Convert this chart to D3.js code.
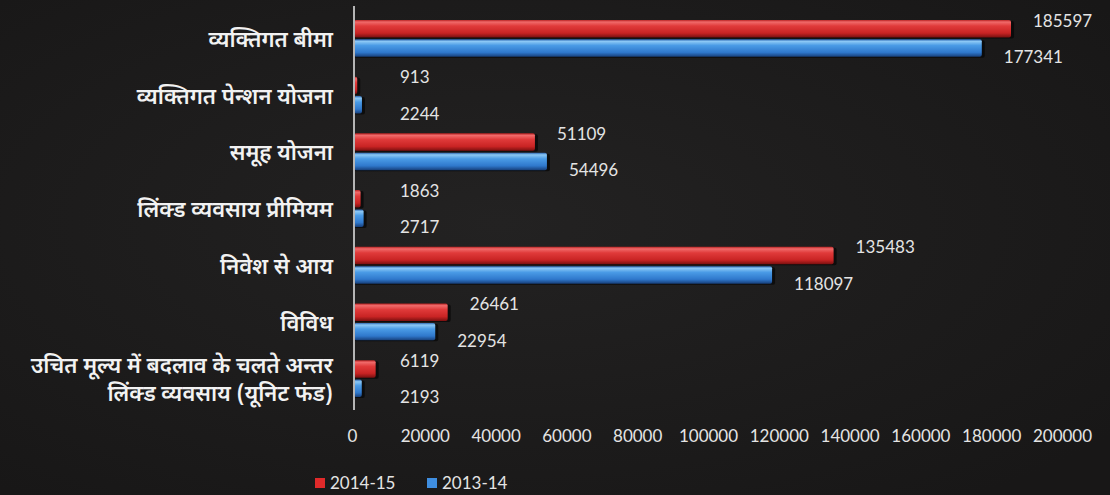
<!DOCTYPE html>
<html>
<head>
<meta charset="utf-8">
<script src="https://cdn.jsdelivr.net/npm/d3@7"></script>
<style>
  html, body { margin: 0; padding: 0; background: #1c1b1b; }
  svg { display: block; }
</style>
</head>
<body>
<svg width="1110" height="495"></svg>
<script>
const categories = [
    ["व्यक्तिगत बीमा"],
    ["व्यक्तिगत पेन्शन योजना"],
    ["समूह योजना"],
    ["लिंक्ड व्यवसाय प्रीमियम"],
    ["निवेश से आय"],
    ["विविध"],
    ["उचित मूल्य में बदलाव के चलते अन्तर", "लिंक्ड व्यवसाय (यूनिट फंड)"]
];
const seriesNames = ["2014-15", "2013-14"];
const values2014 = [185597, 913, 51109, 1863, 135483, 26461, 6119];
const values2013 = [177341, 2244, 54496, 2717, 118097, 22954, 2193];
const xTicks = [0, 20000, 40000, 60000, 80000, 100000, 120000, 140000, 160000, 180000, 200000];

const svg = d3.select("svg"),
    width = +svg.attr("width"),
    height = +svg.attr("height");

const hindiFont = "'Noto Sans Devanagari', 'Noto Sans', sans-serif";
const numFont = "Lato, 'Open Sans', sans-serif";

// background with a faint vignette
const defs = svg.append("defs");
const bg = defs.append("radialGradient").attr("id", "bg").attr("cx", "45%").attr("cy", "45%").attr("r", "70%");
bg.append("stop").attr("offset", "0%").attr("stop-color", "#232222");
bg.append("stop").attr("offset", "100%").attr("stop-color", "#181717");
svg.append("rect").attr("width", width).attr("height", height).attr("fill", "url(#bg)");

function barGradient(id, stops) {
    const g = defs.append("linearGradient").attr("id", id)
        .attr("x1", 0).attr("y1", 0).attr("x2", 0).attr("y2", 1);
    stops.forEach(function (s) {
        g.append("stop").attr("offset", s[0]).attr("stop-color", s[1]);
    });
}
barGradient("grad0", [["0%", "#b82222"], ["12%", "#f06a6a"], ["35%", "#e03a3a"], ["75%", "#c92424"], ["100%", "#7a1010"]]);
barGradient("grad1", [["0%", "#2a64b0"], ["12%", "#8cc8f5"], ["35%", "#4a9be6"], ["75%", "#2f78cc"], ["100%", "#173f7a"]]);

const color = d3.scaleOrdinal().domain(seriesNames).range(["url(#grad0)", "url(#grad1)"]);
const legendColor = d3.scaleOrdinal().domain(seriesNames).range(["#e02a2a", "#3f8ee0"]);

const x = d3.scaleLinear().domain([0, 200000]).range([354, 1062]);

const y = d3.scaleBand()
    .domain(d3.range(categories.length))
    .range([10, 407])
    .paddingInner(0.35)
    .paddingOuter(0.175);

const ySub = d3.scaleBand()
    .domain(seriesNames)
    .range([0, y.bandwidth()])
    .paddingInner(0.1);

const rows = categories.map(function (c, i) {
    return {
        i: i,
        label: c,
        bars: [
            {series: seriesNames[0], value: values2014[i]},
            {series: seriesNames[1], value: values2013[i]}
        ]
    };
});

// category labels
const catG = svg.append("g").attr("class", "categories");
rows.forEach(function (r) {
    const cy = y(r.i) + y.bandwidth() / 2;
    const n = r.label.length;
    r.label.forEach(function (line, k) {
        catG.append("text")
            .attr("x", 333)
            .attr("y", cy + 1 + (k - (n - 1) / 2) * 28)
            .attr("dy", "0.35em")
            .attr("text-anchor", "end")
            .attr("font-family", hindiFont)
            .attr("font-size", 22)
            .attr("font-weight", 600)
            .attr("fill", "#f2f2f2")
            .text(line);
    });
});

// bars
const group = svg.append("g").attr("class", "bars")
    .selectAll("g")
    .data(rows)
    .enter().append("g")
    .attr("transform", function (d) { return "translate(0," + y(d.i) + ")"; });

group.selectAll("rect.shadow")
    .data(function (d) { return d.bars; })
    .enter().append("rect")
    .attr("class", "shadow")
    .attr("x", x(0))
    .attr("y", function (d) { return ySub(d.series) + 1; })
    .attr("width", function (d) { return x(d.value) - x(0) + 3; })
    .attr("height", ySub.bandwidth())
    .attr("rx", 2)
    .attr("fill", "#050505")
    .attr("opacity", 0.7);

group.selectAll("rect.bar")
    .data(function (d) { return d.bars; })
    .enter().append("rect")
    .attr("class", "bar")
    .attr("x", x(0))
    .attr("y", function (d) { return ySub(d.series); })
    .attr("width", function (d) { return Math.max(2, x(d.value) - x(0)); })
    .attr("height", ySub.bandwidth())
    .attr("rx", 2)
    .attr("fill", function (d) { return color(d.series); });

// value labels: red ones sit a bit above, blue ones a bit below
group.selectAll("text.value")
    .data(function (d) { return d.bars; })
    .enter().append("text")
    .attr("class", "value")
    .attr("x", function (d) { return Math.max(x(d.value) + 22, 400); })
    .attr("y", function (d) {
        const mid = ySub(d.series) + ySub.bandwidth() / 2;
        return d.series === seriesNames[0] ? mid - 8 : mid + 9;
    })
    .attr("dy", "0.35em")
    .attr("font-family", numFont)
    .attr("font-size", 17)
    .attr("fill", "#e4e4e4")
    .text(function (d) { return d.value; });

// vertical axis line
svg.append("line")
    .attr("x1", 354).attr("x2", 354)
    .attr("y1", 6).attr("y2", 410)
    .attr("stroke", "#b5b5b5")
    .attr("stroke-width", 2);

// x axis tick labels
const xAxis = svg.append("g")
    .attr("transform", "translate(0,436)")
    .call(d3.axisBottom(x).tickValues(xTicks).tickFormat(d3.format("d")).tickSize(0).tickPadding(0));
xAxis.select(".domain").remove();
xAxis.selectAll("text")
    .attr("dy", "0.35em")
    .attr("font-family", numFont)
    .attr("font-size", 17)
    .attr("fill", "#e4e4e4");
xAxis.selectAll(".tick").filter(function (d) { return d === 0; }).select("text").attr("dx", -2);

// legend
const legend = svg.append("g").attr("transform", "translate(315,483)");
let lx = 0;
seriesNames.forEach(function (s) {
    const item = legend.append("g").attr("transform", "translate(" + lx + ",0)");
    item.append("rect")
        .attr("x", 0).attr("y", -5)
        .attr("width", 10).attr("height", 10)
        .attr("fill", legendColor(s));
    item.append("text")
        .attr("x", 15).attr("dy", "0.35em")
        .attr("font-family", numFont)
        .attr("font-size", 17)
        .attr("fill", "#e4e4e4")
        .text(s);
    lx += 112;
});
</script>
</body>
</html>
